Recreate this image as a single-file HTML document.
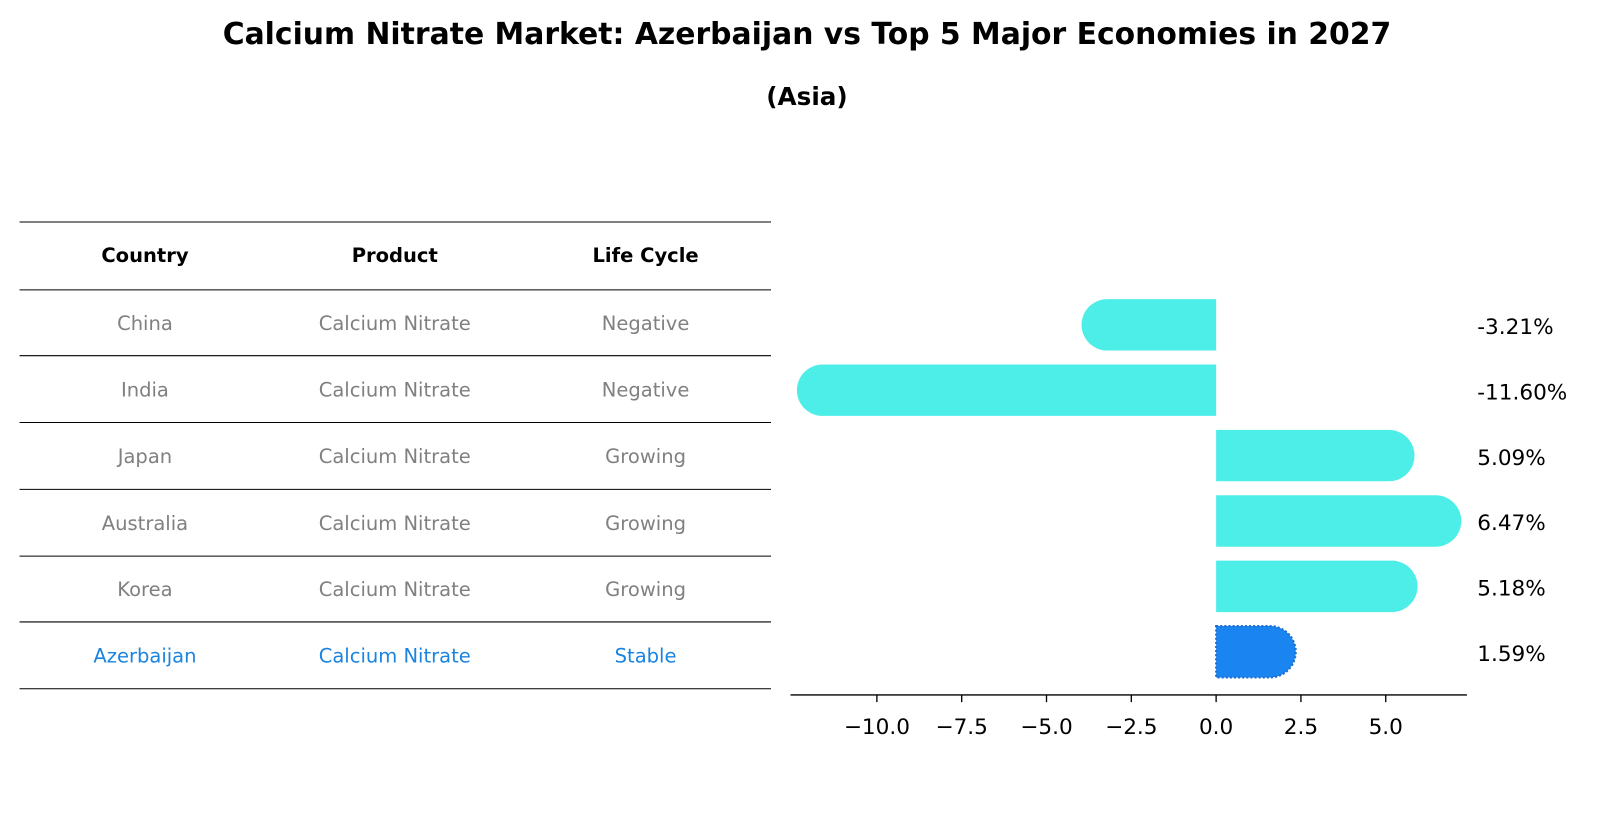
<!DOCTYPE html>
<html><head><meta charset="utf-8">
<style>
body{margin:0;background:#fff;font-family:"Liberation Sans","DejaVu Sans",sans-serif;}
#outer{position:relative;width:1614px;height:823px;overflow:hidden;}
#wrap{position:absolute;left:0;top:0;width:1614px;height:823px;transform:scale(1.028);transform-origin:0 0;}
.t{position:absolute;white-space:nowrap;}
</style></head>
<body>
<div id="outer">
<div id="wrap">
<div class="t" style="left:0;width:1570px;text-align:center;top:16px;font-size:29px;font-weight:bold;font-family:'DejaVu Sans',sans-serif;">Calcium Nitrate Market: Azerbaijan vs Top 5 Major Economies in 2027</div>
<div class="t" style="left:0;width:1570px;text-align:center;top:80px;font-size:24px;font-weight:bold;font-family:'DejaVu Sans',sans-serif;">(Asia)</div>
<svg id="tbl" width="1614" height="823" style="position:absolute;left:0;top:0"></svg>
<svg id="chart" width="1614" height="823" style="position:absolute;left:0;top:0"></svg>
</div>
</div>
<script>
const countries=["China","India","Japan","Australia","Korea","Azerbaijan"];
const lifeCycles=["Negative","Negative","Growing","Growing","Growing","Stable"];
const values=[-3.21,-11.60,5.09,6.47,5.18,1.59];
const valueLabels=["-3.21%","-11.60%","5.09%","6.47%","5.18%","1.59%"];
const tickValues=[-10,-7.5,-5,-2.5,0,2.5,5];
const tickLabels=["\u221210.0","\u22127.5","\u22125.0","\u22122.5","0.0","2.5","5.0"];
const NS="http://www.w3.org/2000/svg";
function mk(parent,tag,attrs){const e=document.createElementNS(NS,tag);for(const k in attrs)e.setAttribute(k,attrs[k]);parent.appendChild(e);return e;}
const F="DejaVu Sans, Liberation Sans, sans-serif";
const tbl=document.getElementById('tbl');
const lineYs=[216,282,346,411,476,541,605,670];
lineYs.forEach((y,i)=>{const l=mk(tbl,'line',{x1:19,x2:750,y1:y,y2:y,stroke:'#000','stroke-width':1});

});
const colX=[141,384,628];
["Country","Product","Life Cycle"].forEach((h,i)=>{const t=mk(tbl,'text',{x:colX[i],y:255,'text-anchor':'middle','font-size':19,'font-weight':'bold','font-family':F});t.textContent=h;

});
countries.forEach((c,r)=>{const y=(lineYs[r+1]+lineYs[r+2])/2+7;const col=r===5?'#1a84e0':'#808080';
[c,"Calcium Nitrate",lifeCycles[r]].forEach((v,i)=>{const t=mk(tbl,'text',{x:colX[i],y:y,'text-anchor':'middle','font-size':19,fill:col,'font-family':F});t.textContent=v;

});});
const ch=document.getElementById('chart');
const x0=1183,ppu=33;
const X=v=>x0+v*ppu;
const rowY=i=>316+i*63.6;
const bh=50,r=25;
values.forEach((v,i)=>{const yc=rowY(i);const xe=X(v);const g=mk(ch,'g',{});


const col=i===5?'#1a84f0':'#4deee8';
const d=v>=0?`M${x0},${yc-bh/2} L${xe},${yc-bh/2} A${r},${r} 0 0 1 ${xe},${yc+bh/2} L${x0},${yc+bh/2} Z`
:`M${x0},${yc-bh/2} L${xe},${yc-bh/2} A${r},${r} 0 0 0 ${xe},${yc+bh/2} L${x0},${yc+bh/2} Z`;
const attrs={d:d,fill:col};if(i===5){attrs.stroke='#1a6fd0';attrs['stroke-width']=2;attrs['stroke-dasharray']='2,2';}
mk(g,'path',attrs);
const t=mk(ch,'text',{x:1437,y:yc+9,'font-size':21,'font-family':F});t.textContent=valueLabels[i];

});
const ax=mk(ch,'line',{x1:769,x2:1427,y1:676,y2:676,stroke:'#000','stroke-width':1.3});


tickValues.forEach((v,i)=>{const x=X(v);const tk=mk(ch,'line',{x1:x,x2:x,y1:676,y2:683,stroke:'#000','stroke-width':1.3});


const t=mk(ch,'text',{x:x,y:714,'text-anchor':'middle','font-size':21,'font-family':F});t.textContent=tickLabels[i];

});
</script>
</body></html>
